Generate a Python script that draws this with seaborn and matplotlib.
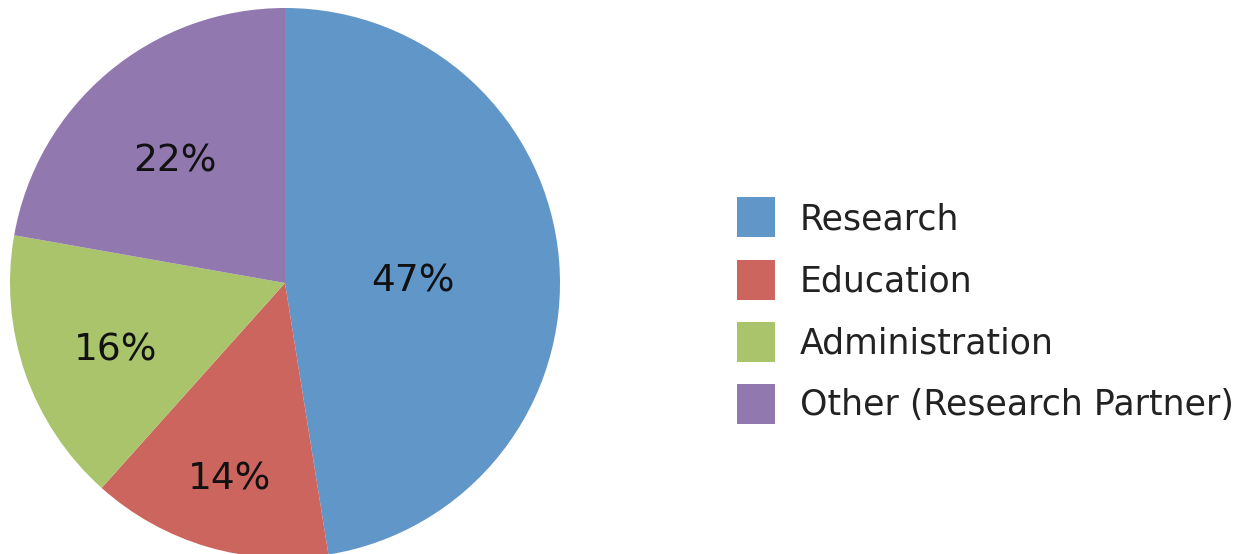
import matplotlib
matplotlib.use("Agg")
import matplotlib.pyplot as plt
import seaborn as sns
import numpy as np

categories = ["Research", "Education", "Administration", "Other (Research Partner)"]
values = [47, 14, 16, 22]
pct_labels = ["47%", "14%", "16%", "22%"]
colors = ["#6196C8", "#CC655D", "#A9C46B", "#9179AF"]
label_dist = [0.466, 0.71, 0.65, 0.62]

sns.set_theme(style="white")
plt.rcParams['font.family'] = ['DejaVu Sans']

W, H = 1247, 554
fig = plt.figure(figsize=(W / 100, H / 100), dpi=100)
cx, cy, r = 285, 283, 275
ax = fig.add_axes([(cx - r) / W, (H - cy - r) / H, 2 * r / W, 2 * r / H])

wedges, _ = ax.pie(values, colors=colors, startangle=90, counterclock=False,
                   radius=1.0, wedgeprops=dict(linewidth=0))
for w, lab, d in zip(wedges, pct_labels, label_dist):
    ang = np.deg2rad((w.theta1 + w.theta2) / 2)
    ax.text(d * np.cos(ang), d * np.sin(ang) - 0.018, lab, ha="center",
            va="center_baseline", fontsize=27, color="#111111")
ax.set_xlim(-1, 1)
ax.set_ylim(-1, 1)
ax.set_aspect("equal")
ax.axis("off")

fs = 25
px = fs * 100 / 72
hh = (40 / px - 0.245) / 0.65
fig.legend(wedges, categories, loc="center left",
           bbox_to_anchor=(737 / W, 1 - 310.5 / H),
           frameon=False, fontsize=fs, borderpad=0, borderaxespad=0,
           handlelength=38 / px, handleheight=hh,
           handletextpad=25 / px, labelspacing=22 / px,
           labelcolor="#222222")

fig.savefig("out.png", dpi=100)
